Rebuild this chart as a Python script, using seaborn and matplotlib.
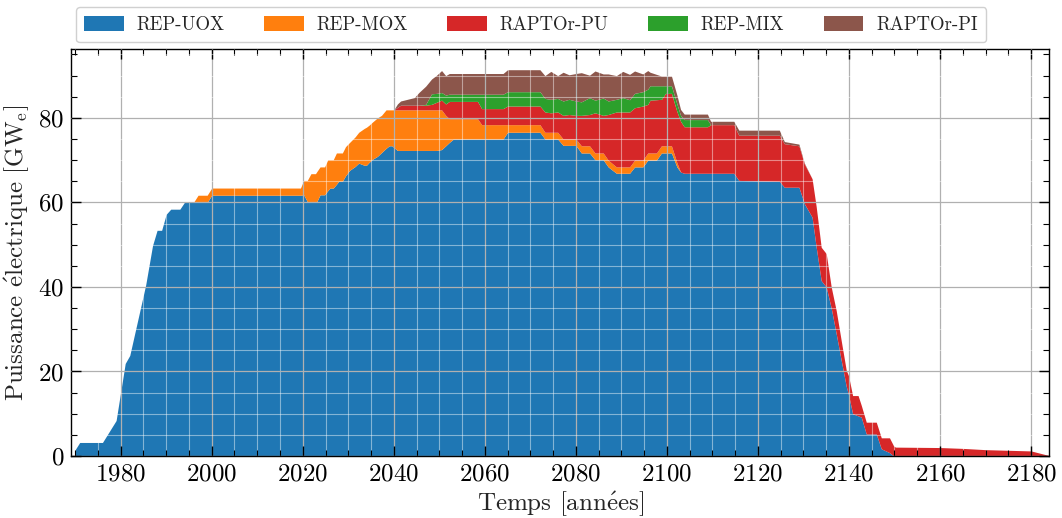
import matplotlib
matplotlib.use("Agg")
import matplotlib.pyplot as plt
import seaborn as sns
from matplotlib.ticker import MultipleLocator

# Installed electrical capacity per reactor fleet (GWe), stacked
years = [
    1970, 1971, 1976, 1979, 1981, 1982, 1985.5, 1987, 1988, 1989,
    1990, 1991, 1993, 1994, 1996, 1997, 1999, 2000, 2019.5, 2020.2,
    2021, 2021.8, 2022.8, 2023.1, 2023.8, 2024.8, 2025.5, 2026, 2026.7, 2027.4,
    2027.9, 2028.7, 2029.4, 2030.3, 2031.5, 2032.3, 2033.5, 2034, 2034.6, 2035.3,
    2036.4, 2037.3, 2038.3, 2039, 2039.6, 2040, 2040.8, 2041.5, 2044.5, 2045.5,
    2047, 2048.3, 2049.4, 2050.5, 2051.4, 2052.2, 2053.1, 2058.4, 2059.3, 2064,
    2065, 2072.1, 2073.2, 2074.5, 2076, 2077.2, 2078.5, 2080, 2081.2, 2083,
    2084.2, 2086, 2087.1, 2088.9, 2090.3, 2091.8, 2092.9, 2094.7, 2095.8, 2096.3,
    2097.7, 2098.8, 2099.7, 2101, 2102.2, 2103, 2103.8, 2108.9, 2109.6, 2114.7,
    2115.8, 2124.7, 2125.8, 2129, 2130.2, 2131.9, 2132.8, 2133.9, 2135, 2136.1,
    2137.2, 2138.5, 2139.4, 2139.9, 2140.8, 2142, 2142.7, 2143.8, 2146, 2147.1,
    2148.9, 2149.8, 2150.2, 2160, 2165, 2170, 2180, 2184,
]

rep_uox = [
    1.5, 3.2, 3.2, 8.4, 21.9, 23.8, 40.5, 49.8, 53.4, 53.4,
    57.2, 58.4, 58.4, 60.0, 60.0, 60.0, 60.0, 61.7, 61.7, 61.8,
    60.2, 60.2, 60.2, 60.2, 61.8, 61.8, 62.8, 63.4, 63.4, 64.3,
    65.0, 65.0, 66.3, 67.6, 68.5, 69.3, 68.8, 68.8, 69.5, 70.2,
    70.9, 71.8, 72.8, 73.4, 73.4, 73.0, 72.3, 72.3, 72.3, 72.3,
    72.3, 72.3, 72.3, 72.5, 73.4, 74.2, 75.0, 75.0, 75.0, 75.0,
    76.6, 76.6, 75.0, 75.0, 75.0, 73.5, 73.5, 73.5, 71.7, 71.7,
    70.1, 70.1, 68.4, 66.9, 66.9, 66.9, 68.4, 68.4, 70.0, 70.0,
    70.0, 71.7, 71.7, 71.7, 68.4, 67.2, 66.9, 66.9, 66.9, 66.9,
    65.2, 65.0, 63.6, 63.6, 59.7, 56.5, 49.4, 41.5, 40.0, 35.0,
    28.9, 21.5, 16.5, 14.5, 10.0, 9.5, 9.2, 5.2, 5.2, 1.7,
    0.8, 0.0, 0.0, 0.0, 0.0, 0.0, 0.0, 0.0,
]

rep_mox = [
    0, 0, 0, 0, 0, 0, 0, 0, 0, 0,
    0, 0, 0, 0, 0, 1.7, 1.7, 1.7, 1.7, 3.4,
    5.0, 6.6, 6.6, 7.1, 6.6, 6.6, 7.3, 6.7, 6.7, 7.4,
    6.7, 6.7, 6.9, 6.6, 7.0, 7.3, 8.7, 9.0, 8.8, 8.8,
    9.1, 8.8, 9.1, 8.5, 8.5, 8.9, 9.6, 9.6, 9.6, 9.6,
    9.6, 9.6, 9.6, 9.4, 7.2, 5.6, 4.8, 4.8, 3.4, 3.4,
    1.8, 1.8, 1.6, 1.6, 1.6, 1.5, 1.5, 1.5, 1.7, 1.7,
    1.6, 1.6, 1.6, 1.5, 1.5, 1.5, 1.6, 1.6, 1.7, 1.7,
    1.7, 1.7, 1.7, 1.7, 1.0, 0, 0, 0, 0, 0,
    0, 0, 0, 0, 0, 0, 0, 0, 0, 0,
    0, 0, 0, 0, 0, 0, 0, 0, 0, 0,
    0, 0, 0, 0, 0, 0, 0, 0,
]

raptor_pu = [
    0, 0, 0, 0, 0, 0, 0, 0, 0, 0,
    0, 0, 0, 0, 0, 0, 0, 0, 0, 0,
    0, 0, 0, 0, 0, 0, 0, 0, 0, 0,
    0, 0, 0, 0, 0, 0, 0, 0, 0, 0,
    0, 0, 0, 0, 0, 0, 0.6, 1.1, 1.1, 1.1,
    1.1, 1.3, 1.8, 2.3, 2.7, 4.1, 4.1, 4.1, 3.8, 3.8,
    4.4, 4.4, 4.8, 4.6, 4.8, 5.6, 5.8, 5.6, 7.2, 7.4,
    9.5, 8.9, 10.8, 13.0, 13.0, 13.0, 12.4, 12.8, 11.5, 12.5,
    12.6, 11.0, 12.4, 12.4, 12.1, 12.0, 11.0, 11.0, 11.5, 11.5,
    10.7, 10.9, 10.3, 9.8, 9.4, 9.1, 9.6, 7.9, 7.9, 5.0,
    5.5, 4.5, 3.8, 4.5, 4.3, 4.8, 2.8, 2.8, 2.8, 2.6,
    3.5, 2.4, 2.1, 2.0, 1.8, 1.5, 1.2, 0.1,
]

rep_mix = [
    0, 0, 0, 0, 0, 0, 0, 0, 0, 0,
    0, 0, 0, 0, 0, 0, 0, 0, 0, 0,
    0, 0, 0, 0, 0, 0, 0, 0, 0, 0,
    0, 0, 0, 0, 0, 0, 0, 0, 0, 0,
    0, 0, 0, 0, 0, 0, 0, 0, 0, 0,
    0.2, 2.5, 2.1, 1.8, 2.1, 1.7, 1.7, 1.7, 3.4, 3.4,
    3.4, 3.4, 3.2, 3.2, 3.2, 3.4, 3.6, 3.4, 3.2, 4.0,
    3.0, 4.1, 3.2, 3.0, 3.4, 2.9, 3.4, 3.4, 3.6, 3.4,
    3.3, 3.2, 1.8, 1.8, 1.8, 1.4, 1.7, 1.7, 0, 0,
    0, 0, 0, 0, 0, 0, 0, 0, 0, 0,
    0, 0, 0, 0, 0, 0, 0, 0, 0, 0,
    0, 0, 0, 0, 0, 0, 0, 0,
]

raptor_pi = [
    0, 0, 0, 0, 0, 0, 0, 0, 0, 0,
    0, 0, 0, 0, 0, 0, 0, 0, 0, 0,
    0, 0, 0, 0, 0, 0, 0, 0, 0, 0,
    0, 0, 0, 0, 0, 0, 0, 0, 0, 0,
    0, 0, 0, 0, 0, 0, 0.8, 1.0, 1.8, 3.0,
    4.3, 3.5, 4.3, 5.2, 4.6, 4.9, 4.9, 4.9, 4.9, 4.9,
    5.2, 5.2, 5.4, 6.6, 5.4, 6.8, 5.8, 6.5, 6.9, 5.3,
    6.9, 5.7, 6.4, 5.6, 6.2, 6.0, 5.3, 4.2, 4.4, 3.2,
    2.7, 2.3, 2.3, 2.3, 2.1, 1.4, 1.3, 1.3, 0.8, 0.8,
    1.2, 1.2, 0.5, 0.4, 0.2, 0, 0, 0, 0, 0,
    0, 0, 0, 0, 0, 0, 0, 0, 0, 0,
    0, 0, 0, 0, 0, 0, 0, 0,
]

labels = ["REP-UOX", "REP-MOX", "RAPTOr-PU", "REP-MIX", "RAPTOr-PI"]

sns.set_theme(style="ticks")
plt.rcParams["font.family"] = ["cmr10", "DejaVu Serif"]
plt.rcParams["mathtext.fontset"] = "cm"
plt.rcParams["axes.formatter.use_mathtext"] = True

tab = sns.color_palette("tab10")
colors = [tab[0], tab[1], tab[3], tab[2], tab[5]]

fig = plt.figure(figsize=(10.62, 5.18), dpi=100)
ax = fig.add_axes([0.0669, 0.1197, 0.9211, 0.7857])

ax.stackplot(years, rep_uox, rep_mox, raptor_pu, rep_mix, raptor_pi,
             labels=labels, colors=colors, linewidth=0)

ax.set_xlim(1969.1, 2184.0)
ax.set_ylim(0, 96.3)

ax.xaxis.set_major_locator(MultipleLocator(20))
ax.xaxis.set_minor_locator(MultipleLocator(5))
ax.yaxis.set_major_locator(MultipleLocator(20))
ax.yaxis.set_minor_locator(MultipleLocator(5))

# grid drawn over the filled areas
ax.set_axisbelow(False)
ax.grid(which="major", color="#b0b0b0", linewidth=0.9)
ax.grid(which="minor", color="white", linewidth=0.8, alpha=0.45)

ax.tick_params(which="both", direction="in", top=True, right=True, colors="black")
ax.tick_params(which="major", length=7, width=1.0, labelsize=18, pad=5)
ax.tick_params(which="minor", length=4, width=0.8)
for sp in ax.spines.values():
    sp.set_color("black")
    sp.set_linewidth(1.0)

# the accented e is typeset through mathtext (cmr10 has no precomposed é)
e_acute = r"$\mathrm{\acute{e}}$"
ax.set_xlabel("Temps [ann" + e_acute + "es]", fontsize=18, labelpad=3)
ax.set_ylabel("Puissance " + e_acute + r"lectrique [GW$_\mathrm{e}$]", fontsize=18, labelpad=5)

fig.legend(loc="upper center", bbox_to_anchor=(0.5, 1.004), ncol=5, fontsize=13.5,
           frameon=True, fancybox=True, edgecolor="#d0d0d0", framealpha=1.0,
           columnspacing=2.1, handlelength=2.1, handleheight=0.9,
           handletextpad=0.7, borderpad=0.45)

fig.savefig("out.png", dpi=100)
